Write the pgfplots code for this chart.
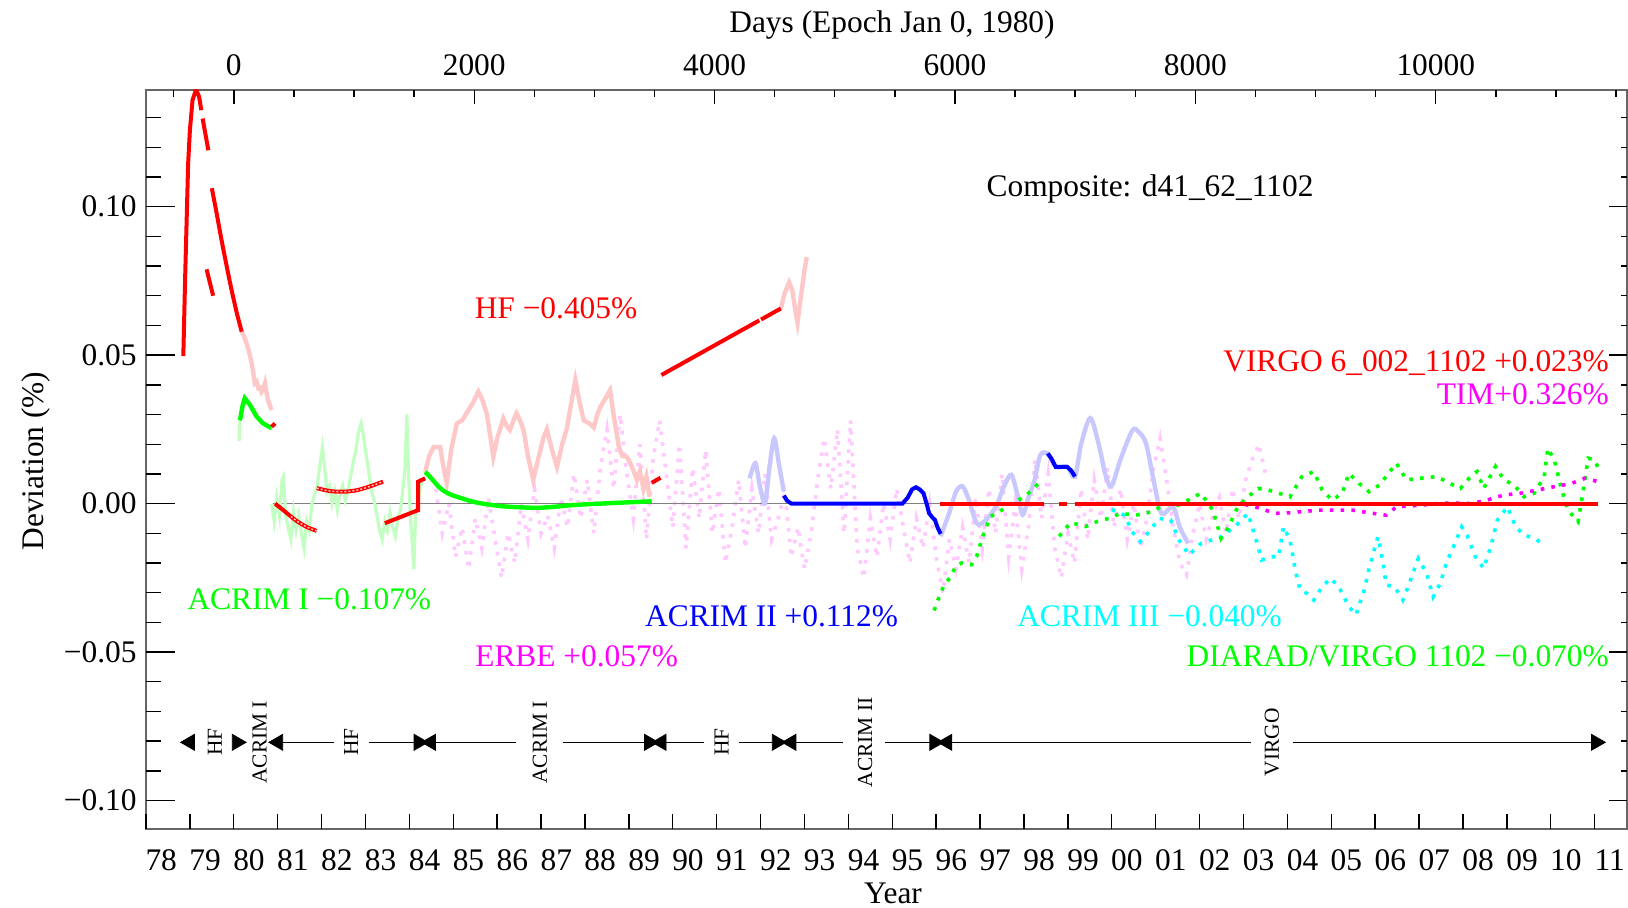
\documentclass[border=0pt]{standalone}
\usepackage{fontspec}
\setmainfont{Liberation Serif}
\usepackage{pgfplots}
\pgfplotsset{compat=1.18}

\definecolor{hfpink}{RGB}{255,200,200}
\definecolor{lgreen}{RGB}{195,255,195}
\definecolor{lblue}{RGB}{200,200,255}
\definecolor{lmag}{RGB}{255,200,255}
\definecolor{vgreen}{RGB}{0,255,0}
\definecolor{vred}{RGB}{255,0,0}
\definecolor{vblue}{RGB}{0,0,255}
\definecolor{vmag}{RGB}{255,0,255}
\definecolor{vcyan}{RGB}{0,255,255}

\newcommand{\bigf}{\fontsize{15.7pt}{18pt}\selectfont}
\newcommand{\smf}{\fontsize{10.7pt}{12pt}\selectfont}

\pgfplotsset{
  myaxis/.style={
    at={(73pt,39pt)}, anchor=south west, scale only axis,
    width=740.5pt, height=369.5pt,
    xmin=1978, xmax=2011.735, ymin=-0.1096, ymax=0.1393,
    scaled ticks=false,
  },
  dotline/.style={line width=1.8pt, dash pattern=on 1.8pt off 3.6pt},
}

\begin{document}
\begin{tikzpicture}
\useasboundingbox (0,0) rectangle (814pt,453.5pt);

% ---------------- data axis (frame, curves, notes) ----------------
\begin{axis}[myaxis, xtick=\empty, ytick=\empty,
  axis line style={draw=black!60, line width=1pt}, clip=true]

% ERBE (light magenta, dotted)
\addplot[lmag, dotline] coordinates {
(1984.6,0.005)(1984.75,-0.010)(1984.9,0.000)(1985.05,-0.018)(1985.2,-0.008)(1985.35,-0.022)
(1985.5,-0.005)(1985.65,-0.015)(1985.8,0.002)(1985.95,-0.012)(1986.1,-0.025)(1986.25,-0.010)
(1986.4,-0.020)(1986.55,0.000)(1986.7,-0.012)(1986.85,0.005)(1987.0,-0.010)(1987.15,-0.004)
(1987.3,-0.015)(1987.45,0.002)(1987.6,-0.008)(1987.75,0.010)(1987.9,-0.005)(1988.05,0.008)
(1988.2,-0.010)(1988.35,0.012)(1988.5,0.025)(1988.65,0.005)(1988.8,0.030)(1988.95,0.010)
(1989.1,-0.005)(1989.25,0.020)(1989.4,-0.012)(1989.55,0.015)(1989.7,0.028)(1989.85,0.010)
(1990.0,-0.008)(1990.15,0.020)(1990.3,-0.015)(1990.45,0.012)(1990.6,-0.005)(1990.75,0.018)
(1990.9,-0.010)(1991.05,0.005)(1991.2,-0.020)(1991.35,-0.008)(1991.5,0.008)(1991.65,-0.015)
(1991.8,0.005)(1991.95,-0.010)(1992.1,0.010)(1992.25,-0.012)(1992.4,-0.005)(1992.55,0.004)
(1992.7,-0.018)(1992.85,-0.008)(1993.0,-0.022)(1993.15,-0.010)(1993.3,0.008)(1993.45,0.022)
(1993.6,0.005)(1993.75,0.025)(1993.9,-0.010)(1994.05,0.028)(1994.2,-0.015)(1994.35,-0.025)
(1994.5,-0.005)(1994.65,-0.018)(1994.8,0.000)(1994.95,-0.012)(1995.1,0.005)(1995.25,-0.008)
(1995.4,-0.020)(1995.55,-0.005)(1995.7,-0.015)(1995.85,0.000)(1996.0,-0.018)(1996.15,-0.030)
(1996.3,-0.012)(1996.45,-0.022)(1996.6,-0.008)(1996.75,-0.020)(1996.9,0.002)(1997.05,-0.015)
(1997.2,0.005)(1997.35,-0.010)(1997.5,0.010)(1997.65,-0.018)(1997.8,0.000)(1997.95,-0.022)
(1998.1,-0.008)(1998.25,0.015)(1998.4,-0.005)(1998.55,0.010)(1998.7,-0.015)(1998.85,-0.025)
(1999.0,-0.010)(1999.15,-0.020)(1999.3,0.005)(1999.45,-0.012)(1999.6,0.008)(1999.75,-0.005)
(1999.9,0.012)(2000.05,-0.008)(2000.2,0.005)(2000.35,-0.012)(2000.5,0.000)(2000.65,-0.015)
(2000.8,-0.005)(2000.95,0.012)(2001.1,0.022)(2001.25,0.008)(2001.4,-0.008)(2001.55,-0.020)
(2001.7,-0.024)(2001.85,-0.010)(2002.0,0.000)(2002.15,-0.012)(2002.3,-0.004)(2002.45,0.002)
(2002.6,-0.010)(2002.75,0.005)(2002.9,-0.005)(2003.05,0.008)(2003.2,0.015)(2003.35,0.020)
(2003.5,0.010)
};

% zero line
\addplot[gray, line width=0.5pt] coordinates {(1980.9,0)(2011.07,0)};

% ACRIM I unused (light green)
\addplot[lgreen, line width=1.6pt] coordinates {(1980.12,0.021)(1980.14,0.028)};
\addplot[lgreen, line width=1.6pt] coordinates {
(1980.86,0.0)(1980.92,-0.006)(1980.98,0.002)(1981.04,-0.004)(1981.1,0.008)(1981.13,0.009)
(1981.18,-0.004)(1981.24,-0.008)(1981.3,-0.012)(1981.36,-0.003)(1981.42,-0.009)(1981.48,-0.004)
(1981.55,-0.011)(1981.6,-0.015)(1981.66,-0.006)(1981.72,-0.009)(1981.78,0.0)(1981.84,0.003)
(1981.9,0.006)(1981.96,0.013)(1982.02,0.019)(1982.07,0.012)(1982.12,0.004)(1982.18,0.006)
(1982.24,0.0)(1982.3,0.004)(1982.36,-0.002)(1982.42,0.003)(1982.48,0.006)(1982.54,0.001)
(1982.6,0.004)(1982.66,0.009)(1982.72,0.014)(1982.78,0.018)(1982.84,0.024)(1982.9,0.027)
(1982.96,0.022)(1983.02,0.016)(1983.08,0.010)(1983.14,0.004)(1983.2,0.001)(1983.26,-0.004)
(1983.32,-0.009)(1983.38,-0.012)(1983.44,-0.006)(1983.5,-0.009)(1983.56,-0.003)(1983.62,-0.008)
(1983.68,-0.011)(1983.74,-0.005)(1983.8,-0.002)(1983.86,0.006)(1983.9,0.012)(1983.94,0.030)
(1983.98,0.010)(1984.02,-0.004)(1984.06,-0.012)(1984.1,-0.022)(1984.14,-0.004)(1984.2,0.002)
(1984.3,0.008)
};

% HF unused (light red)
\addplot[hfpink, line width=2.2pt] coordinates {
(1980.18,0.058)(1980.24,0.056)(1980.29,0.054)(1980.35,0.051)(1980.41,0.047)(1980.48,0.0405)
(1980.52,0.041)(1980.56,0.0388)(1980.6,0.039)(1980.63,0.0377)(1980.68,0.039)(1980.71,0.0405)
(1980.75,0.037)(1980.78,0.0349)(1980.86,0.0315)
};
\addplot[hfpink, line width=2.2pt] coordinates {
(1984.36,0.0107)(1984.45,0.016)(1984.55,0.019)(1984.7,0.019)(1984.78,0.012)(1984.85,0.0068)
(1984.95,0.018)(1985.08,0.027)(1985.2,0.028)(1985.3,0.0304)(1985.45,0.034)(1985.57,0.0377)
(1985.66,0.035)(1985.76,0.0304)(1985.85,0.022)(1985.91,0.0158)(1986.0,0.022)(1986.14,0.0287)
(1986.22,0.026)(1986.29,0.0248)(1986.37,0.028)(1986.44,0.0304)(1986.52,0.028)(1986.6,0.0248)
(1986.7,0.016)(1986.82,0.008)(1986.95,0.016)(1987.05,0.022)(1987.13,0.025)(1987.25,0.018)
(1987.36,0.0124)(1987.48,0.02)(1987.59,0.0256)(1987.7,0.035)(1987.78,0.0416)(1987.88,0.034)
(1987.97,0.028)(1988.1,0.027)(1988.2,0.0256)(1988.28,0.03)(1988.35,0.0326)(1988.45,0.035)
(1988.57,0.0382)(1988.65,0.03)(1988.77,0.0192)(1988.85,0.016)(1988.95,0.0158)(1989.03,0.0136)
(1989.1,0.0113)(1989.18,0.008)(1989.25,0.011)(1989.33,0.005)(1989.4,0.009)(1989.47,0.0023)
};
\addplot[hfpink, line width=2.2pt] coordinates {
(1992.46,0.0657)(1992.55,0.071)(1992.65,0.0745)(1992.72,0.072)(1992.78,0.066)(1992.84,0.061)
(1992.92,0.070)(1993.0,0.0787)(1993.05,0.083)
};

% ACRIM II unused (light blue)
\addplot[lblue, line width=2.2pt, smooth] coordinates {
(1991.75,0.0085)(1991.88,0.0136)(1991.98,0.006)(1992.1,0.0001)(1992.2,0.012)(1992.31,0.022)
(1992.42,0.013)(1992.53,0.004)
};
\addplot[lblue, line width=2.2pt, smooth] coordinates {
(1996.1,-0.011)(1996.3,-0.003)(1996.45,0.004)(1996.6,0.0058)(1996.75,0.001)(1996.92,-0.0066)
(1997.1,-0.006)(1997.36,-0.001)(1997.55,0.006)(1997.71,0.0097)(1997.85,0.003)(1997.97,-0.0038)
(1998.1,0.002)(1998.24,0.0079)(1998.37,0.0163)(1998.54,0.0169)(1998.72,0.0124)(1998.98,0.0124)
(1999.16,0.0091)(1999.3,0.02)(1999.51,0.0288)(1999.7,0.02)(1999.85,0.01)(1999.99,0.0058)
(2000.2,0.015)(2000.47,0.0247)(2000.62,0.024)(2000.78,0.0202)(2000.95,0.008)(2001.13,-0.0033)
(2001.39,-0.0011)(2001.55,-0.008)(2001.74,-0.0134)
};

% ACRIM I (green)
\addplot[vgreen, line width=2.2pt] coordinates {
(1980.14,0.028)(1980.2,0.033)(1980.25,0.0355)(1980.37,0.0332)(1980.52,0.0293)(1980.67,0.027)
(1980.86,0.0254)
};
\addplot[vgreen, line width=2.2pt, smooth] coordinates {
(1984.36,0.0107)(1984.5,0.0085)(1984.7,0.0052)(1984.9,0.0033)(1985.08,0.0023)(1985.46,0.0006)
(1985.8,-0.0003)(1986.21,-0.001)(1986.97,-0.0014)(1987.73,-0.0005)(1988.5,0.0001)(1989.25,0.0006)
(1989.52,0.0008)
};

% ACRIM II (blue)
\addplot[vblue, line width=2pt] coordinates {
(1992.53,0.0027)(1992.6,0.001)(1992.7,0.0)(1995.23,0.0)(1995.35,0.002)(1995.45,0.0048)
(1995.54,0.0055)(1995.62,0.0048)(1995.71,0.0035)(1995.78,0.0)(1995.84,-0.0033)(1995.92,-0.0048)
(1995.97,-0.0055)(1996.03,-0.008)(1996.1,-0.0102)
};
\addplot[vblue, line width=2pt] coordinates {
(1998.54,0.0169)(1998.63,0.015)(1998.72,0.0124)(1998.85,0.0124)(1998.98,0.0124)(1999.08,0.011)
(1999.16,0.0091)
};

% ACRIM III (cyan, dotted)
\addplot[vcyan, dotline] coordinates {
(2000.0,-0.002)(2000.3,-0.004)(2000.46,-0.0095)(2000.65,-0.0128)(2000.88,-0.0089)(2001.07,-0.005)
(2001.34,-0.0055)(2001.53,-0.0123)(2001.76,-0.0173)(2002.03,-0.0134)(2002.26,-0.0123)(2002.49,-0.0112)
(2002.8,-0.0078)(2003.1,-0.0033)(2003.3,-0.0128)(2003.41,-0.019)(2003.64,-0.0179)(2003.8,-0.0179)
(2003.91,-0.0078)(2004.06,-0.0123)(2004.18,-0.0224)(2004.29,-0.0291)(2004.45,-0.0303)(2004.6,-0.0325)
(2004.79,-0.028)(2004.98,-0.0252)(2005.17,-0.028)(2005.4,-0.0347)(2005.56,-0.0375)(2005.75,-0.0291)
(2005.86,-0.0218)(2006.06,-0.0112)(2006.17,-0.019)(2006.25,-0.0274)(2006.44,-0.028)(2006.63,-0.0325)
(2006.79,-0.0263)(2006.98,-0.0185)(2007.17,-0.0235)(2007.32,-0.0314)(2007.48,-0.0269)(2007.63,-0.0196)
(2007.78,-0.0146)(2007.97,-0.0078)(2008.09,-0.0106)(2008.28,-0.0179)(2008.47,-0.0218)(2008.63,-0.0146)
(2008.78,-0.0056)(2009.01,-0.0011)(2009.2,-0.0078)(2009.39,-0.0106)(2009.62,-0.0117)(2009.81,-0.0134)
};

% DIARAD/VIRGO (green, dotted)
\addplot[vgreen, dotline] coordinates {
(1995.95,-0.036)(1996.0,-0.034)(1996.1,-0.030)(1996.2,-0.027)(1996.31,-0.025)(1996.45,-0.021)
(1996.58,-0.020)(1996.8,-0.0206)(1996.92,-0.0178)(1997.06,-0.011)(1997.23,-0.0044)(1997.45,-0.0027)
(1997.63,-0.0005)(1997.85,0.001)(1998.02,0.0023)(1998.2,0.005)(1998.37,0.0073)
};
\addplot[vgreen, dotline] coordinates {
(1998.8,-0.011)(1999.06,-0.0064)(1999.41,-0.0077)(1999.67,-0.006)(1999.93,-0.005)(2000.2,-0.0033)
(2000.55,-0.0039)(2000.9,-0.0028)(2001.24,0.0)(2001.5,-0.0006)(2001.72,0.001)(2002.03,0.0035)
(2002.3,-0.0022)(2002.49,-0.0117)(2002.64,-0.0084)(2002.87,-0.0011)(2003.1,0.0023)(2003.33,0.0051)
(2003.56,0.0046)(2003.8,0.0035)(2004.06,0.0023)(2004.33,0.0091)(2004.6,0.0108)(2004.79,0.0046)
(2005.02,0.0012)(2005.25,0.0035)(2005.4,0.0102)(2005.63,0.0068)(2005.86,0.004)(2006.1,0.0063)
(2006.48,0.0136)(2006.71,0.008)(2007.0,0.0085)(2007.4,0.0091)(2007.7,0.0068)(2007.94,0.0051)
(2008.17,0.0091)(2008.32,0.0108)(2008.47,0.0051)(2008.74,0.0125)(2008.93,0.008)(2009.16,0.0063)
(2009.39,0.0023)(2009.62,0.0035)(2009.85,0.0091)(2009.93,0.0186)(2010.08,0.0147)(2010.24,0.0051)
(2010.39,-0.0022)(2010.62,-0.0061)(2010.74,0.0046)(2010.85,0.0153)(2011.0,0.0147)(2011.08,0.0119)
};

% TIM (magenta, dotted)
\addplot[vmag, dotline] coordinates {
(2003.03,-0.0003)(2003.33,-0.0014)(2003.72,-0.0033)(2004.03,-0.0031)(2004.33,-0.0027)(2004.71,-0.0022)
(2005.1,-0.0022)(2005.48,-0.0022)(2005.86,-0.0031)(2006.25,-0.0039)(2006.48,-0.0011)(2007.0,-0.0006)
(2007.4,0.0)(2007.78,0.0002)(2008.17,0.0)(2008.55,0.0012)(2008.93,0.0029)(2009.32,0.0035)
(2009.7,0.0046)(2010.08,0.0057)(2010.47,0.0068)(2010.77,0.0085)(2011.08,0.0074)
};

% HF (red)
\addplot[vred, line width=2pt] coordinates {
(1978.85,0.0497)(1978.89,0.0752)(1978.93,0.0977)(1978.96,0.1146)(1979.0,0.1258)(1979.06,0.1359)
(1979.14,0.1395)(1979.21,0.137)(1979.26,0.1325)
};
\addplot[vred, line width=2pt] coordinates {(1979.29,0.1297)(1979.42,0.119)};
\addplot[vred, line width=2pt] coordinates {(1979.38,0.0789)(1979.53,0.070)};
\addplot[vred, line width=2pt, smooth] coordinates {
(1979.50,0.1062)(1979.61,0.0977)(1979.72,0.0888)(1979.84,0.0798)(1979.95,0.0719)(1980.07,0.0641)
(1980.18,0.0579)
};
\addplot[vred, line width=2pt] coordinates {(1980.86,0.0259)(1980.94,0.027)};
\addplot[vred, line width=2pt, smooth] coordinates {
(1980.94,0.0)(1981.15,-0.0025)(1981.4,-0.0055)(1981.65,-0.0078)(1981.89,-0.0092)
};
\addplot[hfpink, line width=0.7pt, dash pattern=on 1pt off 1pt, smooth] coordinates {
(1981.3,-0.0043)(1981.4,-0.0055)(1981.65,-0.0078)(1981.89,-0.0092)
};
\addplot[vred, line width=2pt, smooth] coordinates {
(1981.89,0.0052)(1982.2,0.0042)(1982.5,0.004)(1982.8,0.0045)(1983.1,0.0058)(1983.4,0.0074)
};
\addplot[hfpink, line width=0.7pt, dash pattern=on 1pt off 1pt, smooth] coordinates {
(1981.89,0.0052)(1982.2,0.0042)(1982.5,0.004)(1982.8,0.0045)(1983.1,0.0058)(1983.4,0.0074)
};
\addplot[vred, line width=2pt] coordinates {
(1983.44,-0.0066)(1984.2,-0.0022)(1984.2,0.0074)(1984.36,0.0085)
};
\addplot[vred, line width=2pt] coordinates {(1989.52,0.007)(1989.72,0.0087)};
\addplot[vred, line width=2pt] coordinates {(1989.74,0.0433)(1991.97,0.0617)};
\addplot[vred, line width=2pt] coordinates {(1992.01,0.0620)(1992.46,0.0657)};

% VIRGO (red)
\addplot[vred, line width=2pt] coordinates {(1996.08,0)(1998.45,0)};
\addplot[vred, line width=2pt] coordinates {(1998.8,0)(1998.98,0)};
\addplot[vred, line width=2pt] coordinates {(1999.15,0)(2011.07,0)};

% instrument periods
\addplot[black, line width=0.6pt, unbounded coords=jump] coordinates {
(1981.01,-0.0804)(1982.29,-0.0804)(1982.3,nan)
(1983.07,-0.0804)(1984.21,-0.0804)(1984.3,nan)
(1984.49,-0.0804)(1986.43,-0.0804)(1986.5,nan)
(1987.49,-0.0804)(1989.46,-0.0804)(1989.5,nan)
(1989.74,-0.0804)(1990.71,-0.0804)(1990.8,nan)
(1991.51,-0.0804)(1992.37,-0.0804)(1992.4,nan)
(1992.70,-0.0804)(1993.88,-0.0804)(1993.9,nan)
(1994.83,-0.0804)(1995.96,-0.0804)(1996.0,nan)
(1996.25,-0.0804)(2003.18,-0.0804)(2003.2,nan)
(2004.12,-0.0804)(2011.03,-0.0804)
};
\addplot[only marks, mark=triangle*, mark size=4.6pt, black,
  mark options={rotate=90, fill=black}] coordinates {
(1979.0,-0.0804)(1981.01,-0.0804)(1984.49,-0.0804)(1989.74,-0.0804)(1992.70,-0.0804)(1996.25,-0.0804)
};
\addplot[only marks, mark=triangle*, mark size=4.6pt, black,
  mark options={rotate=-90, fill=black}] coordinates {
(1980.07,-0.0804)(1984.21,-0.0804)(1989.46,-0.0804)(1992.37,-0.0804)(1995.96,-0.0804)(2011.03,-0.0804)
};

\begin{scope}[every node/.style={font=\smf, rotate=90, inner sep=0pt}]
\node at (axis cs:1979.57,-0.0804) {HF};
\node at (axis cs:1980.59,-0.0804) {ACRIM I};
\node at (axis cs:1982.67,-0.0804) {HF};
\node at (axis cs:1986.97,-0.0804) {ACRIM I};
\node at (axis cs:1991.11,-0.0804) {HF};
\node at (axis cs:1994.38,-0.0804) {ACRIM II};
\node at (axis cs:2003.65,-0.0804) {VIRGO};
\end{scope}

\begin{scope}[every node/.style={font=\bigf, inner sep=0pt}]
\node[black] at (axis cs:2000.87,0.1059) {Composite: d41\_62\_1102};
\node[vred] at (axis cs:1987.34,0.0657) {HF −0.405\%};
\node[vred, anchor=east] at (axis cs:2011.33,0.0472) {VIRGO 6\_002\_1102 +0.023\%};
\node[vmag, anchor=east] at (axis cs:2011.33,0.0367) {TIM+0.326\%};
\node[vgreen] at (axis cs:1981.72,-0.0322) {ACRIM I −0.107\%};
\node[vblue] at (axis cs:1992.25,-0.0378) {ACRIM II +0.112\%};
\node[vcyan] at (axis cs:2000.86,-0.0378) {ACRIM III −0.040\%};
\node[vmag] at (axis cs:1987.81,-0.0514) {ERBE +0.057\%};
\node[vgreen, anchor=east] at (axis cs:2011.33,-0.0514) {DIARAD/VIRGO 1102 −0.070\%};
\end{scope}
\end{axis}

% ---------------- bottom: years ----------------
\begin{axis}[myaxis, ytick=\empty, axis line style={draw=none},
  xtick={1978,1979,...,2011}, xtick pos=left, tick align=inside,
  major tick length=7.5pt, tick style={black, line width=0.7pt},
  xticklabels={78,79,80,81,82,83,84,85,86,87,88,89,90,91,92,93,94,95,96,97,98,99,00,01,02,03,04,05,06,07,08,09,10,11},
  xticklabel style={font=\bigf, anchor=north, inner sep=0pt, yshift=-10pt, xshift=7.6pt}]
\end{axis}

% ---------------- left: deviation ----------------
\begin{axis}[myaxis, xtick=\empty, axis line style={draw=none},
  ytick={-0.10,-0.05,0,0.05,0.10}, yticklabels={−0.10,−0.05,0.00,0.05,0.10},
  minor ytick={-0.09,-0.08,-0.07,-0.06,-0.04,-0.03,-0.02,-0.01,0.01,0.02,0.03,0.04,0.06,0.07,0.08,0.09,0.11,0.12,0.13},
  ytick pos=left, tick align=inside,
  major tick length=14.5pt, minor tick length=7.5pt,
  tick style={black, line width=0.7pt},
  yticklabel style={font=\bigf, anchor=east, inner sep=0pt, xshift=-4.5pt}]
\end{axis}

% ---------------- right ticks ----------------
\begin{axis}[myaxis, xtick=\empty, axis line style={draw=none},
  ytick={-0.10,-0.05,0,0.05,0.10}, yticklabels={},
  minor ytick={-0.09,-0.08,-0.07,-0.06,-0.04,-0.03,-0.02,-0.01,0.01,0.02,0.03,0.04,0.06,0.07,0.08,0.09,0.11,0.12,0.13},
  ytick pos=right, tick align=inside,
  major tick length=9pt, minor tick length=3pt,
  tick style={black, line width=0.7pt}]
\end{axis}

% ---------------- top: days ----------------
\begin{axis}[myaxis, xmin=-730.5, xmax=11591, ytick=\empty, axis line style={draw=none},
  xtick={0,2000,4000,6000,8000,10000}, xticklabels={0,2000,4000,6000,8000,10000},
  minor xtick={-500,500,1000,1500,2500,3000,3500,4500,5000,5500,6500,7000,7500,8500,9000,9500,10500,11000,11500},
  xtick pos=right, xticklabel pos=right, tick align=inside,
  major tick length=7pt, minor tick length=3.5pt,
  tick style={black, line width=0.7pt},
  xticklabel style={font=\bigf, anchor=south, inner sep=0pt, yshift=6.75pt}]
\end{axis}

\node[font=\bigf, anchor=base, inner sep=0pt] at (446pt,437pt) {Days (Epoch Jan 0, 1980)};
\node[font=\bigf, anchor=base, inner sep=0pt] at (446.5pt,2pt) {Year};
\node[font=\bigf, rotate=90, inner sep=0pt] at (17.75pt,223pt) {Deviation (\%)};
\end{tikzpicture}
\end{document}
